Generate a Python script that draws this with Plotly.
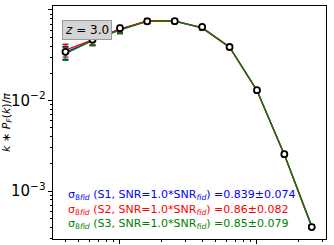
import plotly.graph_objects as go

k = [0.04, 0.063, 0.1, 0.158, 0.251, 0.398, 0.631, 1.0, 1.585, 2.512]
data = [0.0345, 0.047, 0.063, 0.075, 0.0752, 0.065, 0.039, 0.0130, 0.00255, 0.00040]
s1 = [0.034, 0.046, 0.062, 0.075, 0.075, 0.064, 0.039, 0.0129, 0.00252, 0.000400]
s2 = [0.036, 0.047, 0.061, 0.076, 0.076, 0.063, 0.0385, 0.0128, 0.00250, 0.000405]
s3 = [0.033, 0.046, 0.060, 0.075, 0.0755, 0.064, 0.039, 0.0130, 0.00255, 0.000410]
e1 = [0.0055, 0.0055, 0.0055, 0.0045, 0.0038, 0.0032, 0.0016, 0.0004, 0.00008, 0.000016]
e2 = [0.0058, 0.0056, 0.0055, 0.0046, 0.0038, 0.0032, 0.0016, 0.0004, 0.00008, 0.000016]
e3 = [0.0053, 0.0055, 0.0054, 0.0045, 0.0038, 0.0032, 0.0016, 0.0004, 0.00008, 0.000016]

series = [("S1", s1, e1, "blue"), ("S2", s2, e2, "red"), ("S3", s3, e3, "green")]
labels = [
    ("S1", "0.839±0.074", "blue"),
    ("S2", "0.86±0.082", "red"),
    ("S3", "0.85±0.079", "green"),
]

fig = go.Figure()
for name, vals, errs, col in series:
    fig.add_trace(go.Scatter(
        x=k, y=vals, mode="lines", name=name,
        line=dict(color=col, width=1.3),
        error_y=dict(type="data", array=errs, color=col, thickness=1.3, width=3),
    ))
fig.add_trace(go.Scatter(
    x=k, y=data, mode="markers", name="data",
    marker=dict(symbol="circle", size=6, color="white", line=dict(color="black", width=1.8)),
))

ypos = [0.187, 0.124, 0.066]
for (sname, val, col), yp in zip(labels, ypos):
    fig.add_annotation(
        x=0.048, y=yp, xref="paper", yref="paper", xanchor="left", yanchor="middle",
        showarrow=False,
        text=f"σ<sub>8<i>fid</i></sub> ({sname}, SNR=1.0*SNR<sub><i>fid</i></sub>) ={val}",
        font=dict(color=col, size=11, family="DejaVu Sans"),
    )

fig.add_annotation(
    x=0.033, y=0.94, xref="paper", yref="paper", xanchor="left", yanchor="top",
    showarrow=False, text="<i>z</i> = 3.0",
    font=dict(size=12, family="DejaVu Sans", color="black"),
    bgcolor="#d4d4d4", bordercolor="#9a9a9a", borderwidth=1, borderpad=2,
)

fig.update_layout(
    width=334, height=245,
    margin=dict(l=53, r=8, t=6, b=6, autoexpand=False),
    paper_bgcolor="white", plot_bgcolor="white",
    showlegend=False,
    font=dict(family="DejaVu Sans", size=12, color="black"),
)
fig.update_xaxes(
    type="log", range=[-1.489, 0.504], showgrid=False, zeroline=False, automargin=False,
    showline=True, linecolor="black", linewidth=1, mirror=True,
    ticks="outside", ticklen=4, tickcolor="black", dtick=1, showticklabels=False,
    minor=dict(ticks="outside", ticklen=2, tickcolor="black", dtick="D1", showgrid=False),
)
fig.update_yaxes(
    type="log", range=[-3.53, -0.956], showgrid=False, zeroline=False, automargin=False,
    showline=True, linecolor="black", linewidth=1, mirror=True,
    ticks="outside", ticklen=4, tickcolor="black", dtick=1, exponentformat="power",
    minor=dict(ticks="outside", ticklen=2, tickcolor="black", dtick="D1", showgrid=False),
    title=dict(text="<i>k</i> ∗ <i>P</i><sub><i>F</i></sub>(<i>k</i>)/<i>π</i>", font=dict(size=11), standoff=8),
    tickfont=dict(size=12),
)

fig.write_html("out.html", config={"displayModeBar": False},
               post_script="document.body.style.margin='0';")
